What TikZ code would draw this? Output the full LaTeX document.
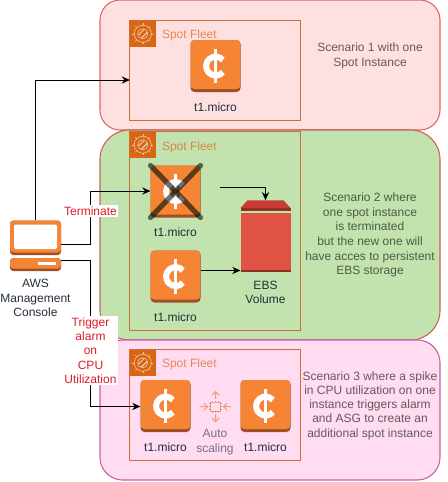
\documentclass[tikz,border=0pt]{standalone}
\usepackage{fontspec}
\setmainfont{Liberation Sans}
\usetikzlibrary{arrows.meta,calc}
\definecolor{awsorange}{HTML}{F58534}
\definecolor{awsdark}{HTML}{9D5025}
\definecolor{fleetline}{HTML}{C8703A}
\definecolor{fleettag}{HTML}{D86613}
\definecolor{inktext}{HTML}{232F3E}
\definecolor{alarmred}{HTML}{DD1C2A}
\definecolor{ebsbody}{HTML}{E05243}
\definecolor{ebsdark}{HTML}{8C3123}
\definecolor{ebslid}{HTML}{C93A36}
\definecolor{crossink}{HTML}{64737A}
\definecolor{panelonefill}{HTML}{FFE0E0}
\definecolor{paneltwofill}{HTML}{C3E3AE}
\definecolor{panelthreefill}{HTML}{FFDCF0}
\definecolor{paneloneline}{HTML}{E06666}
\definecolor{paneltwoline}{HTML}{C8605A}
\definecolor{panelthreeline}{HTML}{C75FA5}
\tikzset{
  every node/.style={inner sep=0pt,outer sep=0pt,align=center,font=\fontsize{9}{10.7}\selectfont},
  scenariobox/.style={draw=#1,line width=.8pt,minimum width=255pt},
  fleetbox/.style={draw=fleetline,line width=.75pt,minimum width=128pt},
  fleetlabel/.style={anchor=west,text=fleettag,text opacity=.7},
  tagbox/.style={fill=fleettag,minimum width=19.2pt,minimum height=19.2pt},
  instance/.style={rounded corners=3pt,fill=awsdark,minimum width=37.5pt,minimum height=39pt,
    path picture={
      \fill[awsorange,rounded corners=3pt] (path picture bounding box.north west) rectangle ([yshift=2.2pt]path picture bounding box.south east);
      \draw[white,sharp corners,line width=4.5pt] ([xshift=5.5pt,yshift=4.5pt]path picture bounding box.center) arc[start angle=40,end angle=320,radius=7.1pt];
      \draw[white,sharp corners,line width=1.9pt] ([yshift=13pt]path picture bounding box.center) -- ([yshift=-13pt]path picture bounding box.center);
    }},
  iconlabel/.style={text=inktext},
  softlabel/.style={text=inktext,text opacity=.62},
  story/.style={text=black,text opacity=.6,font=\fontsize{9}{11}\selectfont},
  alarm/.style={fill=white,text=alarmred,inner xsep=1pt,inner ysep=1pt},
  link/.style={draw=black,line width=.75pt,-{Stealth[length=6.2pt,width=5.4pt]}},
}
\begin{document}
\begin{tikzpicture}[x=.75pt,y=-.75pt]
\useasboundingbox (0,0) rectangle (447,482);
\fill[white] (0,0) rectangle (447,482);
% scenario panels
\node[scenariobox=paneloneline,fill=panelonefill,rounded corners=15pt,minimum height=97.5pt] (panelone) at (270,65) {};
\node[scenariobox=paneltwoline,fill=paneltwofill,rounded corners=22pt,minimum height=157.5pt] (paneltwo) at (270,235) {};
\node[scenariobox=panelthreeline,fill=panelthreefill,rounded corners=17pt,minimum height=105pt] (panelthree) at (270,410) {};
% fleets
\node[fleetbox,minimum height=74.6pt] (fleetone) at (215.3,70.7) {};
\node[fleetbox,minimum height=149pt] (fleettwo) at (215.3,231.3) {};
\node[fleetbox,minimum height=82.9pt] (fleetthree) at (215.3,405.2) {};
\foreach \tagname/\fleet in {tagone/fleetone,tagtwo/fleettwo,tagthree/fleetthree}{
  \node[tagbox,anchor=north west] (\tagname) at (\fleet.north west) {};
  \begin{scope}[shift={(\tagname.center)},x=1pt,y=1pt]
    \draw[white,opacity=.65,line width=.45pt] (0,0) circle (6.4pt);
    \draw[white,opacity=.65,line width=.45pt] (0,0) circle (3.8pt);
    \draw[white,opacity=.8,line width=.6pt] (-3.2,-1) -- (1,3.2) (-1,-3.2) -- (3.2,1);
    \foreach \a in {0,45,...,315}{\draw[white,opacity=.6,line width=.35pt] (\a:6.4pt) -- (\a:8pt);}
  \end{scope}
}
\node[fleetlabel] (fleetnameone) at (162,35) {Spot Fleet};
\node[fleetlabel] (fleetnametwo) at (162,147) {Spot Fleet};
\node[fleetlabel] (fleetnamethree) at (162,364) {Spot Fleet};
% instances
\node[instance] (inst) at (215.5,66) {};
\node[iconlabel] (instl) at (215.5,107) {t1.micro};
\node[instance] (instgone) at (175.5,191.5) {};
\node[iconlabel] (instgonel) at (175.5,232) {t1.micro};
\node[instance] (instnew) at (175.5,276.5) {};
\node[iconlabel] (instnewl) at (175.5,317) {t1.micro};
\node[instance] (instleft) at (165.5,406) {};
\node[iconlabel] (instleftl) at (165.5,447) {t1.micro};
\node[instance] (instright) at (265.5,406) {};
\node[iconlabel] (instrightl) at (265.5,447) {t1.micro};
% cross
\begin{scope}[blend mode=multiply]
  \draw[crossink,line width=3.9pt,line cap=round] (instgone.north west) -- (instgone.south east);
  \draw[crossink,line width=3.9pt,line cap=round] (instgone.north east) -- (instgone.south west);
\end{scope}
% EBS
\node[fill=ebsbody,minimum width=37.5pt,minimum height=44.2pt] (ebs) at (265.5,242.7) {};
\fill[ebsdark] (240.5,269.6) rectangle (290.5,272.2);
\coordinate (lid) at (265.5,200.3);
\fill[ebslid] (240.5,208) -- (247.5,200.3) -- (283.5,200.3) -- (290.5,208) -- cycle;
\fill[ebsdark] (240.5,208) rectangle (290.5,210.6);
\node[iconlabel] (ebsl) at (265.5,292) {EBS\\Volume};
% auto scaling icon
\begin{scope}[draw=fleettag,draw opacity=.5,line width=.8pt,shift={(215.5,406.7)}]
  \coordinate (autoicon) at (0,0);
  \draw (-4.6,-4.6) rectangle (4.6,4.6);
  \foreach \p in {-3,0,3}{
    \draw[line width=.45pt] (\p,-4.6) -- (\p,-6.2) (\p,4.6) -- (\p,6.2) (-4.6,\p) -- (-6.2,\p) (4.6,\p) -- (6.2,\p);
  }
  \draw[line cap=round] (0,-8) -- (0,-15) (-3.5,-11.5) -- (0,-15) -- (3.5,-11.5);
  \draw[line cap=round] (0,8) -- (0,15) (-3.5,11.5) -- (0,15) -- (3.5,11.5);
  \draw[line cap=round] (-15,0) -- (-8,0) (-11.5,-3.5) -- (-8,0) -- (-11.5,3.5);
  \draw[line cap=round] (15,0) -- (8,0) (11.5,-3.5) -- (8,0) -- (11.5,3.5);
\end{scope}
\node[softlabel] (autol) at (215,442) {Auto\\scaling};
% console
\node[minimum width=38.25pt,minimum height=38.25pt] (console) at (35.5,245.5) {};
\fill[awsdark,rounded corners=2.5pt] (10,220.5) rectangle (61,255);
\fill[awsorange,rounded corners=2.5pt] (10,220.5) rectangle (61,252.5);
\fill[white,rounded corners=1pt] (14,224.5) rectangle (57,249);
\fill[awsdark,rounded corners=2.5pt] (10,258) rectangle (61,271);
\fill[awsorange,rounded corners=2.5pt] (10,258) rectangle (61,268.5);
\fill[white] (38,262) rectangle (56,264.5);
\node[iconlabel] (consolel) at (35.5,298) {AWS\\Management\\Console};
% connectors
\draw[link] (console.north) |- (fleetone.west |- 0,80);
\draw[link] (console.east |- 0,244) -- (90.5,244) -- (90.5,191) -- (instgone.west |- 0,191);
\draw[link] (console.east |- 0,260) -- (90.5,260) -- (90.5,406.5) -- (instleft.west |- 0,406.5);
\coordinate (freestart) at (220,187);
\draw[link] (freestart) -| (lid);
\draw[link] (instnew.east |- 0,270.5) -- (ebs.west |- 0,270.5);
% labels on connectors
\node[alarm] (terminate) at (90.5,211) {Terminate};
\node[alarm] (trigger) at (90.5,350.5) {Trigger\\alarm\\on\\CPU\\Utilization};
% stories
\node[story] (storyone) at (370,56) {Scenario 1 with one\\Spot Instance};
\node[story] (storytwo) at (370,235) {Scenario 2 where\\one spot instance\\is terminated\\but the new one will\\have acces to persistent\\EBS storage};
\node[story,font=\fontsize{9}{10.7}\selectfont] (storythree) at (370,405.5) {Scenario 3 where a spike\\in CPU utilization on one\\instance triggers alarm\\and ASG to create an\\additional spot instance};
\end{tikzpicture}
\end{document}
